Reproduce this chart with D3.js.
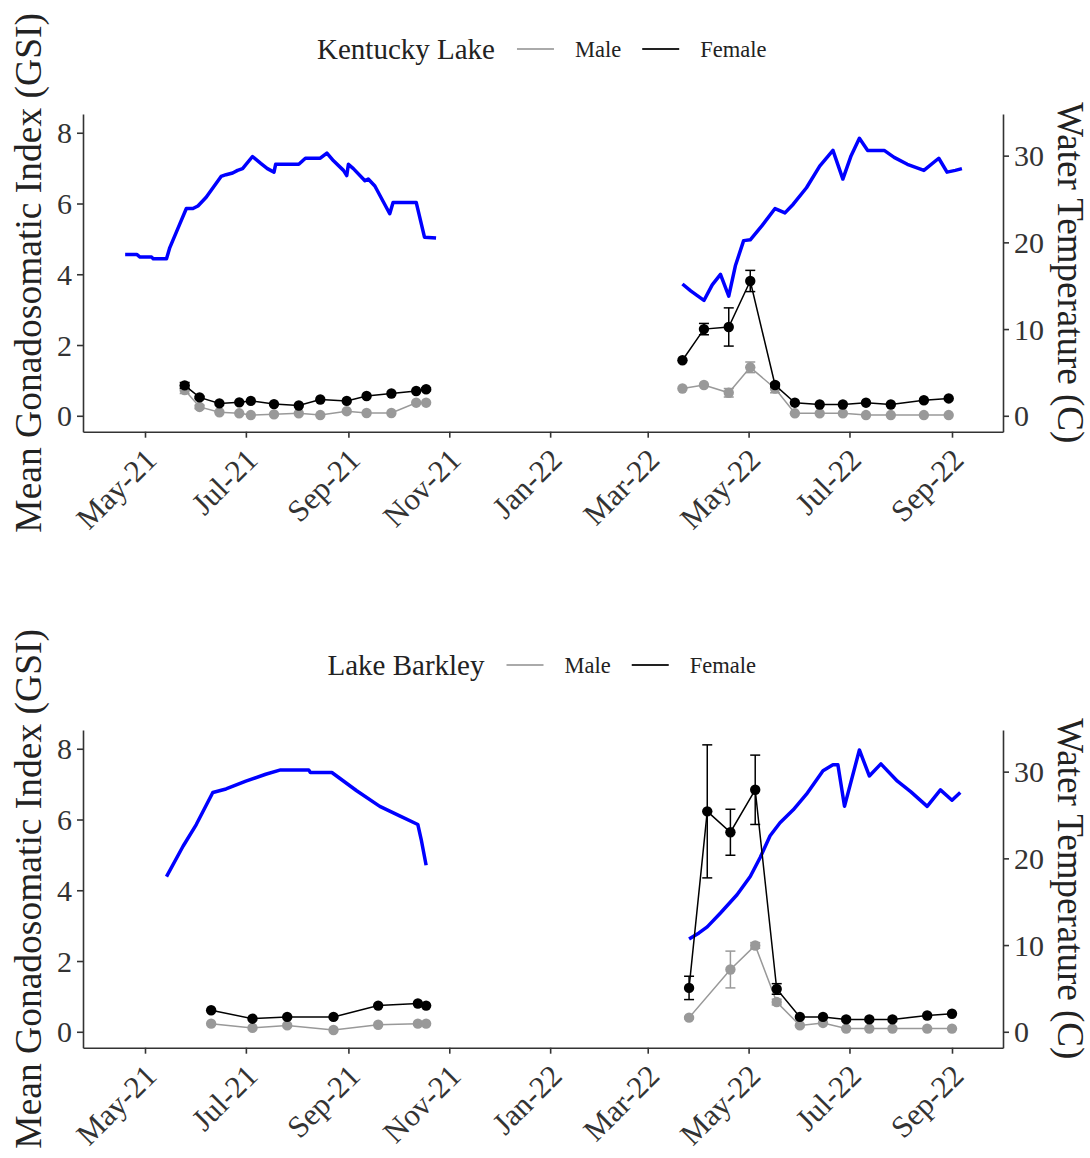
<!DOCTYPE html>
<html>
<head>
<meta charset="utf-8">
<script src="https://cdn.jsdelivr.net/npm/d3@7"></script>
<style>
  body { margin: 0; background: #fff; }
  svg, svg text { font-family: 'Liberation Serif', 'Times New Roman', serif; }
  svg { display: block; }
</style>
</head>
<body>
<div id="chart"></div>
<script>
// ---------- data ----------
// null marks the gap between the 2021 and 2022 seasons

// Kentucky Lake water temperature (C)
const klTempDates = ['2021-04-19','2021-04-26','2021-04-28','2021-05-05','2021-05-06','2021-05-14','2021-05-16','2021-05-22','2021-05-26','2021-05-30','2021-06-02','2021-06-07','2021-06-16','2021-06-19','2021-06-23','2021-06-26','2021-06-29','2021-07-05','2021-07-10','2021-07-14','2021-07-18','2021-07-19','2021-08-02','2021-08-06','2021-08-15','2021-08-19','2021-08-23','2021-08-29','2021-08-31','2021-09-01','2021-09-04','2021-09-11','2021-09-13','2021-09-17','2021-09-26','2021-09-28','2021-10-12','2021-10-17','2021-10-24',
  null,
  '2022-03-22','2022-03-27','2022-04-04','2022-04-09','2022-04-14','2022-04-19','2022-04-23','2022-04-28','2022-05-02','2022-05-09','2022-05-17','2022-05-23','2022-05-28','2022-06-05','2022-06-13','2022-06-21','2022-06-27','2022-07-02','2022-07-07','2022-07-12','2022-07-22','2022-07-28','2022-08-05','2022-08-15','2022-08-24','2022-08-29','2022-09-03','2022-09-07']
const klTemp = [18.6,18.6,18.3,18.3,18.1,18.1,19.4,22.1,23.9,23.9,24.2,25.2,27.6,27.8,28.0,28.3,28.5,29.9,29.1,28.5,28.1,29.0,29.0,29.7,29.7,30.3,29.4,28.3,27.7,29.0,28.5,27.1,27.3,26.5,23.3,24.6,24.6,20.6,20.5,
  null,
  15.2,14.4,13.3,15.1,16.3,13.8,17.3,20.2,20.3,21.9,23.9,23.4,24.4,26.3,28.8,30.6,27.3,30.0,32.0,30.6,30.6,29.8,29.0,28.3,29.7,28.1,28.3,28.5]

// Kentucky Lake GSI, females
const klFemaleDates = ['2021-05-25','2021-06-03','2021-06-15','2021-06-27','2021-07-04','2021-07-18','2021-08-02','2021-08-15','2021-08-31','2021-09-12','2021-09-27','2021-10-12','2021-10-18',
  null,
  '2022-03-22','2022-04-04','2022-04-19','2022-05-02','2022-05-17','2022-05-29','2022-06-13','2022-06-27','2022-07-11','2022-07-26','2022-08-15','2022-08-30']
const klFemaleGSI = [0.86,0.52,0.35,0.38,0.42,0.33,0.29,0.46,0.42,0.56,0.63,0.70,0.75,
  null,
  1.57,2.45,2.51,3.81,0.87,0.37,0.32,0.32,0.37,0.32,0.44,0.49]
const klFemaleSE = [0.08,0.03,0,0,0,0,0,0,0,0,0,0,0.04,
  null,
  0,0.16,0.54,0.30,0.05,0,0,0,0,0,0,0]

// Kentucky Lake GSI, males
const klMaleDates = ['2021-05-25','2021-06-03','2021-06-15','2021-06-27','2021-07-04','2021-07-18','2021-08-02','2021-08-15','2021-08-31','2021-09-12','2021-09-27','2021-10-12','2021-10-18',
  null,
  '2022-03-22','2022-04-04','2022-04-19','2022-05-02','2022-05-17','2022-05-29','2022-06-13','2022-06-27','2022-07-11','2022-07-26','2022-08-15','2022-08-30']
const klMaleGSI = [0.73,0.25,0.10,0.07,0.02,0.04,0.07,0.02,0.13,0.08,0.08,0.37,0.37,
  null,
  0.77,0.87,0.65,1.37,0.77,0.07,0.07,0.07,0.02,0.02,0.02,0.02]
const klMaleSE = [0.10,0.05,0,0,0,0,0,0,0,0,0,0,0,
  null,
  0,0,0.12,0.15,0.12,0,0,0,0,0,0,0]

// Lake Barkley water temperature (C)
const lbTempDates = ['2021-05-14','2021-05-24','2021-06-01','2021-06-11','2021-06-19','2021-07-01','2021-07-13','2021-07-22','2021-08-08','2021-08-09','2021-08-22','2021-09-06','2021-09-20','2021-10-02','2021-10-13','2021-10-15','2021-10-18',
  null,
  '2022-03-26','2022-04-01','2022-04-06','2022-04-14','2022-04-24','2022-05-02','2022-05-08','2022-05-14','2022-05-20','2022-05-28','2022-06-05','2022-06-15','2022-06-21','2022-06-24','2022-06-28','2022-07-07','2022-07-13','2022-07-20','2022-07-30','2022-08-07','2022-08-17','2022-08-25','2022-09-01','2022-09-06']
const lbTemp = [17.9,21.4,23.9,27.6,28.0,28.9,29.7,30.2,30.2,29.9,29.9,27.8,26.0,24.9,23.9,22.2,19.2,
  null,
  10.7,11.4,12.1,13.7,15.8,17.9,20.1,22.6,24.1,25.6,27.4,30.1,30.8,30.8,26.0,32.5,29.5,30.9,28.9,27.7,26.0,27.9,26.7,27.6]

// Lake Barkley GSI, females
const lbFemaleDates = ['2021-06-10','2021-07-05','2021-07-26','2021-08-23','2021-09-19','2021-10-13','2021-10-18',
  null,
  '2022-03-26','2022-04-06','2022-04-20','2022-05-05','2022-05-18','2022-06-01','2022-06-15','2022-06-29','2022-07-13','2022-07-27','2022-08-17','2022-09-01']
const lbFemaleGSI = [0.61,0.37,0.42,0.42,0.74,0.80,0.74,
  null,
  1.24,6.23,5.64,6.84,1.21,0.42,0.42,0.35,0.35,0.35,0.46,0.51]
const lbFemaleSE = [0,0,0,0,0,0,0,
  null,
  0.33,1.88,0.65,0.98,0.15,0,0,0,0,0,0,0]

// Lake Barkley GSI, males
const lbMaleDates = ['2021-06-10','2021-07-05','2021-07-26','2021-08-23','2021-09-19','2021-10-13','2021-10-18',
  null,
  '2022-03-26','2022-04-20','2022-05-05','2022-05-18','2022-06-01','2022-06-15','2022-06-29','2022-07-13','2022-07-27','2022-08-17','2022-09-01']
const lbMaleGSI = [0.23,0.11,0.18,0.05,0.20,0.23,0.23,
  null,
  0.40,1.76,2.44,0.84,0.18,0.25,0.09,0.09,0.09,0.09,0.09]
const lbMaleSE = [0,0,0,0,0,0,0,
  null,
  0.03,0.52,0.08,0.08,0,0,0,0,0,0,0]

const gsiTicks  = [0, 2, 4, 6, 8]
const tempTicks = [0, 10, 20, 30]
const lakeNames = ['Kentucky Lake', 'Lake Barkley']
const sexLabels = ['Male', 'Female']

// ---------- layout ----------
const W = 1090, H = 1158
const plotLeft = 83, plotRight = 1003
const plotH = 317.7
const panelTops = [114, 730]
const gsiDomain = [-0.45, 8.53]
const tempPerGsi = 4.08   // secondary axis factor

const maleColor = '#999999'
const femaleColor = '#000000'
const tempColor = '#0000ff'
const axisColor = '#333333'
const fontFamily = "'Liberation Serif', 'Times New Roman', serif"

const parse = d3.timeParse('%Y-%m-%d')

// anchored on May-21 and Sep-22 tick positions
const xAnchor = d3.scaleTime()
    .domain([parse('2021-05-01'), parse('2022-09-01')])
    .range([145, 952])
const xScale = d3.scaleTime()
    .domain([xAnchor.invert(plotLeft), xAnchor.invert(plotRight)])
    .range([plotLeft, plotRight])

const yScale = d3.scaleLinear().domain(gsiDomain).range([plotH, 0])
const tScale = d3.scaleLinear()
    .domain(gsiDomain.map(v => v * tempPerGsi))
    .range([plotH, 0])

const svg = d3.select('#chart').append('svg')
    .attr('width', W)
    .attr('height', H)

function rows(dates, vals, ses) {
    return dates.map((d, i) => ({
        date: d ? parse(d) : null,
        v: vals[i],
        se: ses ? ses[i] : 0
    }))
}

function drawPanel(top, lake, temp, female, male) {
    const g = svg.append('g').attr('transform', `translate(0,${top})`)

    // axes
    g.append('g')
        .attr('transform', `translate(${plotLeft},0)`)
        .call(d3.axisLeft(yScale).tickValues(gsiTicks).tickSize(6).tickSizeOuter(0).tickPadding(5))
        .call(a => a.selectAll('text').style('font-size', '30px').attr('fill', axisColor).attr('dy', '0.34em'))

    g.append('g')
        .attr('transform', `translate(${plotRight},0)`)
        .call(d3.axisRight(tScale).tickValues(tempTicks).tickSize(6).tickSizeOuter(0).tickPadding(5))
        .call(a => a.selectAll('text').style('font-size', '30px').attr('fill', axisColor).attr('dy', '0.34em'))

    g.append('g')
        .attr('transform', `translate(0,${plotH})`)
        .call(d3.axisBottom(xScale)
            .ticks(d3.timeMonth.every(2))
            .tickFormat(d3.timeFormat('%b-%y'))
            .tickSize(6).tickSizeOuter(0))
        .call(a => a.selectAll('text')
            .style('font-size', '31px')
            .attr('fill', axisColor)
            .attr('text-anchor', 'end')
            .attr('x', 0).attr('y', 0).attr('dy', 0)
            .attr('transform', 'translate(13,30) rotate(-45)'))

    g.selectAll('g').attr('font-family', fontFamily)
    g.selectAll('.tick text').style('font-family', fontFamily)

    g.selectAll('.domain, .tick line')
        .attr('stroke', axisColor)
        .attr('stroke-width', 1.6)

    // titles
    g.append('text')
        .attr('transform', `translate(41,${plotH / 2}) rotate(-90)`)
        .attr('text-anchor', 'middle')
        .style('font-size', '37.5px')
        .attr('fill', '#222')
        .text('Mean Gonadosomatic Index (GSI)')

    g.append('text')
        .attr('transform', `translate(1058,${plotH / 2}) rotate(90)`)
        .attr('text-anchor', 'middle')
        .style('font-size', '37px')
        .attr('fill', '#222')
        .text('Water Temperature (C)')

    // temperature line
    g.append('path')
        .datum(temp)
        .attr('fill', 'none')
        .attr('stroke', tempColor)
        .attr('stroke-width', 3.5)
        .attr('stroke-linejoin', 'round')
        .attr('d', d3.line()
            .defined(d => d.v != null)
            .x(d => xScale(d.date))
            .y(d => tScale(d.v)))

    // GSI series
    const series = [
        { data: male, color: maleColor },
        { data: female, color: femaleColor }
    ]
    series.forEach(s => {
        const pts = s.data.filter(d => d.v != null)
        g.append('path')
            .datum(s.data)
            .attr('fill', 'none')
            .attr('stroke', s.color)
            .attr('stroke-width', 1.5)
            .attr('d', d3.line()
                .defined(d => d.v != null)
                .x(d => xScale(d.date))
                .y(d => yScale(d.v)))

        const err = g.append('g').attr('stroke', s.color).attr('stroke-width', 1.5)
        pts.filter(d => d.se > 0).forEach(d => {
            const cx = xScale(d.date)
            err.append('line')
                .attr('x1', cx).attr('x2', cx)
                .attr('y1', yScale(d.v - d.se)).attr('y2', yScale(d.v + d.se))
            err.append('line')
                .attr('x1', cx - 5).attr('x2', cx + 5)
                .attr('y1', yScale(d.v - d.se)).attr('y2', yScale(d.v - d.se))
            err.append('line')
                .attr('x1', cx - 5).attr('x2', cx + 5)
                .attr('y1', yScale(d.v + d.se)).attr('y2', yScale(d.v + d.se))
        })

        g.append('g').selectAll('circle')
            .data(pts)
            .join('circle')
            .attr('cx', d => xScale(d.date))
            .attr('cy', d => yScale(d.v))
            .attr('r', 5.2)
            .attr('fill', s.color)
    })

    // legend above the panel
    const lg = g.append('g').attr('transform', 'translate(0,-65)')
    const title = lg.append('text')
        .attr('x', 0).attr('y', 10)
        .style('font-size', '29px')
        .attr('fill', '#222')
        .text(lake)
    const tw = title.node().getComputedTextLength()
    const legendW = tw + 22 + 37 + 20 + 50 + 20 + 37 + 20 + 66
    const x0 = 542 - legendW / 2
    title.attr('x', x0)
    let cx = x0 + tw + 22
    ;['#aaaaaa', '#222222'].forEach((c, i) => {
        lg.append('line')
            .attr('x1', cx).attr('x2', cx + 37)
            .attr('y1', 0).attr('y2', 0)
            .attr('stroke', c)
            .attr('stroke-width', 2)
        cx += 37 + 21
        const t = lg.append('text')
            .attr('x', cx).attr('y', 8)
            .style('font-size', '22.5px')
            .attr('fill', '#222')
            .text(sexLabels[i])
        cx += t.node().getComputedTextLength() + 21
    })
}

drawPanel(panelTops[0], lakeNames[0],
    rows(klTempDates, klTemp),
    rows(klFemaleDates, klFemaleGSI, klFemaleSE),
    rows(klMaleDates, klMaleGSI, klMaleSE))

drawPanel(panelTops[1], lakeNames[1],
    rows(lbTempDates, lbTemp),
    rows(lbFemaleDates, lbFemaleGSI, lbFemaleSE),
    rows(lbMaleDates, lbMaleGSI, lbMaleSE))
</script>
</body>
</html>
